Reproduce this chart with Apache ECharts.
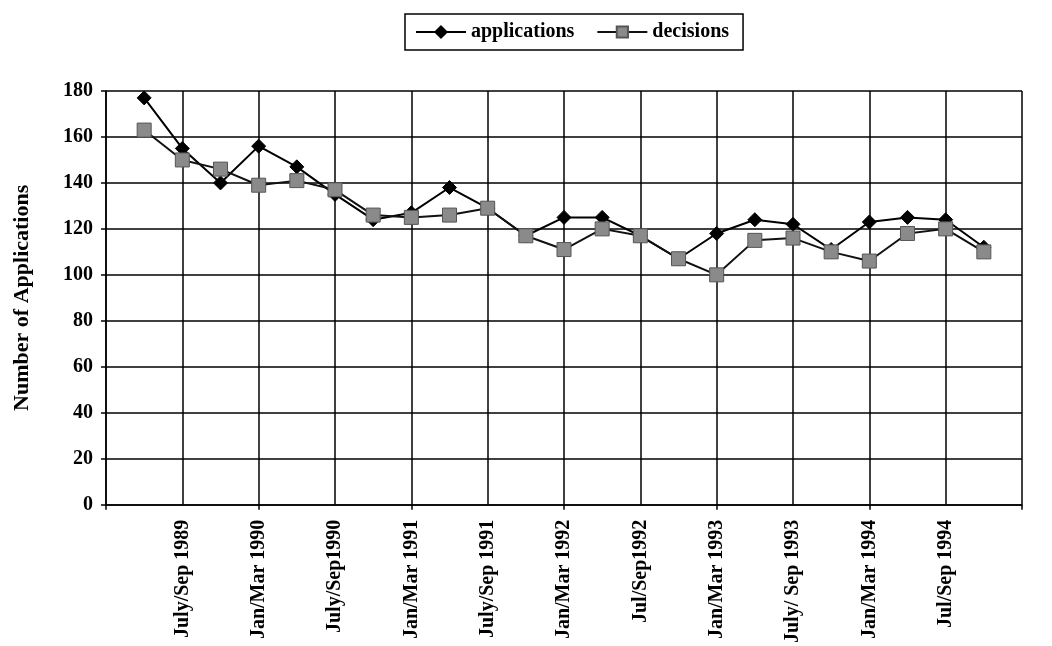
<!DOCTYPE html>
<html>
<head>
<meta charset="utf-8">
<script src="https://cdn.jsdelivr.net/npm/echarts@6/dist/echarts.min.js"></script>
<style>html,body{margin:0;padding:0;background:#fff;}#chart{width:1052px;height:646px;}</style>
</head>
<body>
<div id="chart"></div>
<script>
var categories = ['', '', 'July/Sep 1989', '', 'Jan/Mar 1990', '', 'July/Sep1990', '', 'Jan/Mar 1991', '', 'July/Sep 1991', '', 'Jan/Mar 1992', '', 'Jul/Sep1992', '', 'Jan/Mar 1993', '', 'July/ Sep 1993', '', 'Jan/Mar 1994', '', 'Jul/Sep 1994', '', ''];
var applications = [null, 177, 155, 140, 156, 147, 135, 124, 127, 138, 129, 117, 125, 125, 117, 107, 118, 124, 122, 111, 123, 125, 124, 112, null];
var decisions = [null, 163, 150, 146, 139, 141, 137, 126, 125, 126, 129, 117, 111, 120, 117, 107, 100, 115, 116, 110, 106, 118, 120, 110, null];
var yTicks = {min: 0, max: 180, interval: 20};

var font = 'Liberation Serif, Times New Roman, serif';
var chart = echarts.init(document.getElementById('chart'));
chart.setOption({
  animation: false,
  backgroundColor: '#fff',
  legend: {
    left: 405, top: 14,
    itemWidth: 50, itemHeight: 14, itemGap: 22,
    padding: [8, 14, 8, 10],
    borderColor: '#000', borderWidth: 1.5,
    textStyle: {fontFamily: font, fontWeight: 'bold', fontSize: 20, color: '#000'},
    data: ['applications', 'decisions']
  },
  grid: {left: 106, right: 30, top: 91, bottom: 140, containLabel: false},
  xAxis: {
    type: 'category',
    data: categories,
    boundaryGap: false,
    axisLine: {lineStyle: {color: '#000', width: 1.5}},
    axisTick: {show: true, interval: 3, length: 5, lineStyle: {color: '#000', width: 1.5}},
    axisLabel: {interval: 0, rotate: 90, margin: 15, color: '#000', fontFamily: font, fontWeight: 'bold', fontSize: 20},
    splitLine: {show: true, interval: 1, lineStyle: {color: '#000', width: 1.5}}
  },
  yAxis: {
    type: 'value',
    min: yTicks.min, max: yTicks.max, interval: yTicks.interval,
    name: 'Number of Applications',
    nameLocation: 'middle', nameRotate: 90, nameGap: 73,
    nameTextStyle: {fontFamily: font, fontWeight: 'bold', fontSize: 22, color: '#000'},
    axisLine: {show: true, lineStyle: {color: '#000', width: 1.5}},
    axisTick: {show: true, length: 5, lineStyle: {color: '#000', width: 1.5}},
    axisLabel: {margin: 13, color: '#000', fontFamily: font, fontWeight: 'bold', fontSize: 20},
    splitLine: {show: true, lineStyle: {color: '#000', width: 1.5}}
  },
  series: [
    {
      name: 'applications', type: 'line', data: applications,
      symbol: 'diamond', symbolSize: 14,
      lineStyle: {color: '#000', width: 2},
      itemStyle: {color: '#000', borderColor: '#000', borderWidth: 1}
    },
    {
      name: 'decisions', type: 'line', data: decisions,
      symbol: 'rect', symbolSize: 14,
      lineStyle: {color: '#111', width: 2},
      itemStyle: {color: '#8a8a8a', borderColor: '#555', borderWidth: 1}
    }
  ]
});
</script>
</body>
</html>
